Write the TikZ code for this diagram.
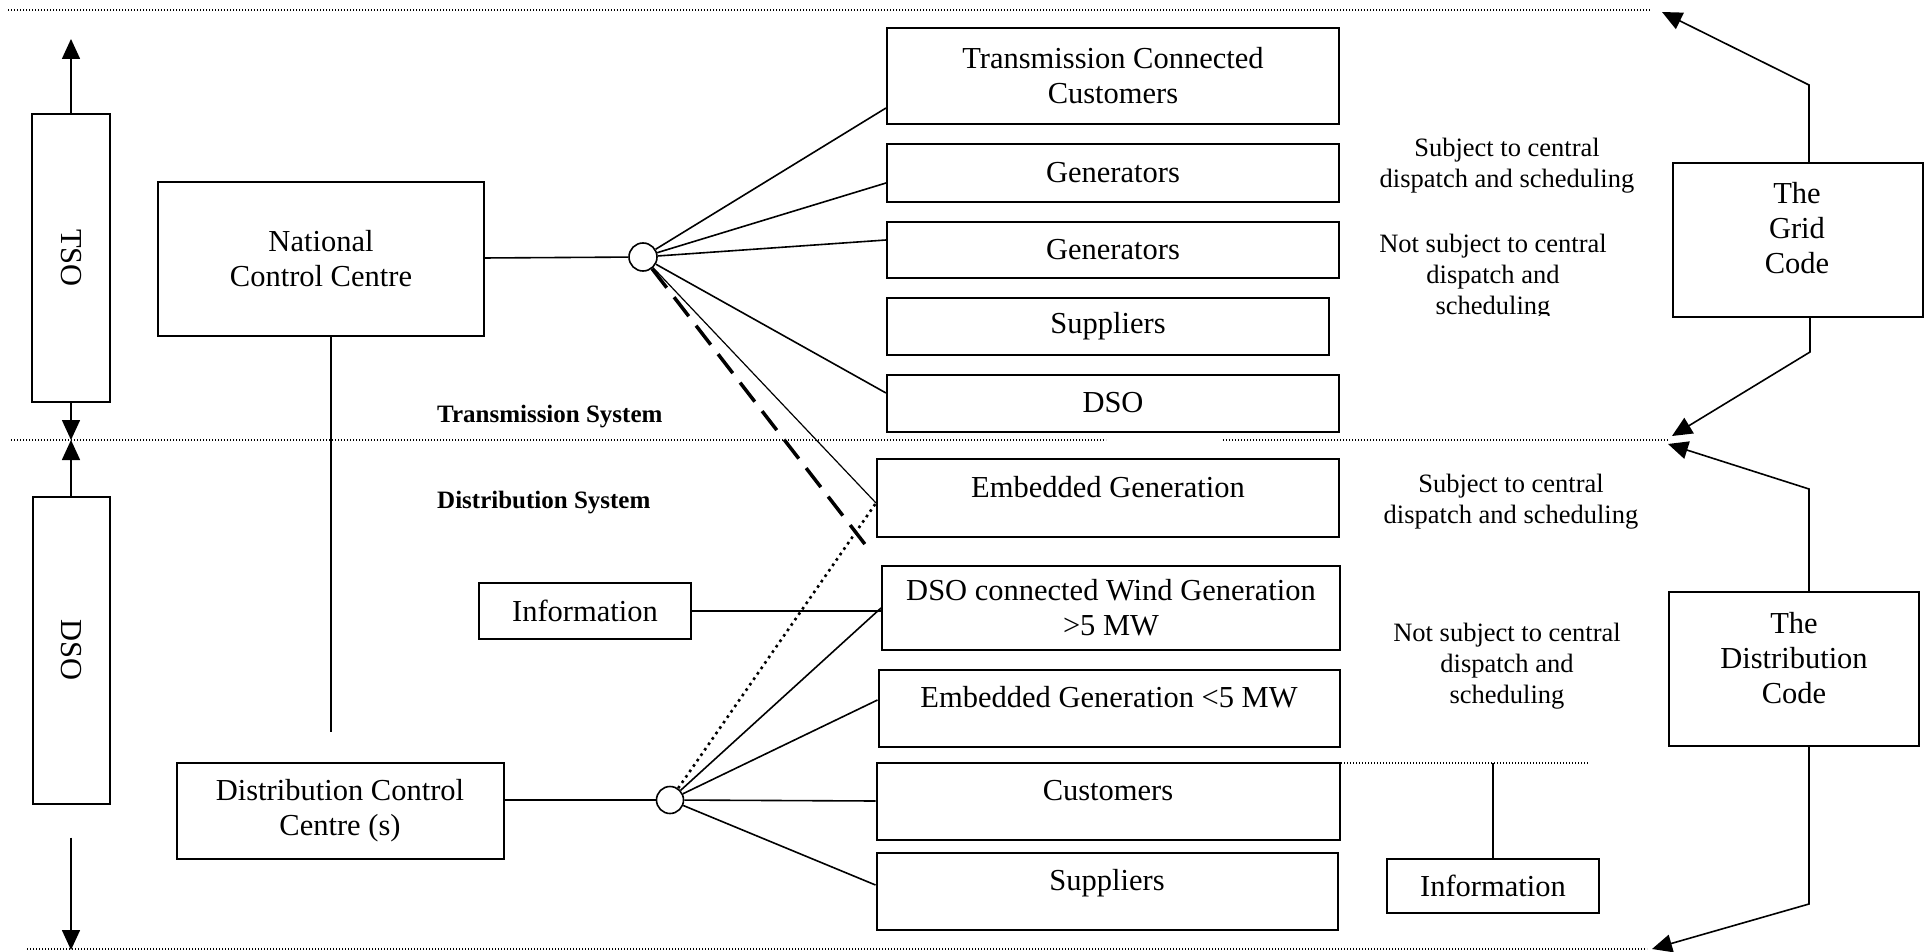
\documentclass[tikz,border=0pt]{standalone}
\usepackage{fontspec}
\setmainfont{Liberation Serif}
\usepackage{graphicx}
\usetikzlibrary{arrows.meta}

\begin{document}
\begin{tikzpicture}[x=1pt, y=-1pt, >={Triangle[length=20pt, width=18pt]}]
    \tikzstyle{box_style} = [draw, line width=2pt, inner sep=0pt, align=center, font=\fontsize{30.5}{35}\selectfont]
    \tikzstyle{box_text} = [inner sep=0pt, align=center, font=\fontsize{30.5}{35}\selectfont]
    \tikzstyle{low_text} = [text height=21pt, text depth=22pt]
    \tikzstyle{junction} = [draw, circle, line width=1.6pt, inner sep=0pt, minimum size=28pt]
    \tikzstyle{link} = [line width=1.6pt]
    \tikzstyle{thin_link} = [line width=1.2pt]
    \tikzstyle{dash_link} = [line width=3.5pt, dash pattern=on 24pt off 12pt]
    \tikzstyle{dot_link} = [line width=2.6pt, dash pattern=on 2.6pt off 4pt]
    \tikzstyle{boundary} = [line width=1.2pt, dash pattern=on 1.2pt off 1.8pt]
    \tikzstyle{code_arrow} = [->, line width=1.6pt]
    \tikzstyle{side_text} = [inner sep=0pt, align=center, font=\fontsize{26.5}{31}\selectfont]
    \tikzstyle{system_text} = [anchor=west, inner sep=0pt, font=\fontsize{25}{29}\selectfont\bfseries]

    \useasboundingbox (0,0) rectangle (1930,952);

    % system boundaries
    \draw[boundary] (8,10) -- (1650,10);
    \draw[boundary] (11,440) -- (1106,440);
    \draw[boundary] (1223,440) -- (1668,440);
    \draw[boundary] (27,949) -- (1647,949);

    \node[system_text] (tTrans) at (437,417) {Transmission System};
    \node[system_text] (tDist) at (437,503) {Distribution System};

    % operators
    \node[box_style, minimum width=78pt, minimum height=288pt] (nTSO) at (71,258) {\rotatebox{-90}{TSO}};
    \node[box_style, minimum width=77pt, minimum height=307pt] (nDSO) at (71,650) {\rotatebox{-90}{DSO}};

    \coordinate (tsoTop) at (71,39);
    \coordinate (sysMid) at (71,440);
    \coordinate (dsoBottom) at (71,950);

    \draw[code_arrow] (nTSO.north) -- (tsoTop);
    \draw[code_arrow] (nTSO.south) -- (sysMid);
    \draw[code_arrow] (nDSO.north) -- (sysMid);
    \draw[code_arrow] ([yshift=-33pt]nDSO.south) -- (dsoBottom);

    % control centres
    \node[box_style, minimum width=326pt, minimum height=154pt] (nNCC) at (321,259) {National\\Control Centre};
    \node[box_style, minimum width=327pt, minimum height=96pt] (nDCC) at (340,811) {Distribution Control\\Centre (s)};
    \coordinate (nccEnd) at (331,732);
    \draw[link] ([xshift=10pt]nNCC.south) -- (nccEnd);

    \node[junction] (nJT) at (643,257) {};
    \node[junction, minimum size=27pt] (nJD) at (670,800) {};

    \draw[link] (nNCC) -- (nJT);
    \draw[link] (nDCC.east |- nJD) -- (nJD);

    % transmission connected parties
    \node[box_style, minimum width=452pt, minimum height=96pt] (nTCC) at (1113,76) {Transmission Connected\\Customers};
    \node[box_style, minimum width=452pt, minimum height=58pt] (nGenA) at (1113,173) {Generators};
    \node[box_style, minimum width=452pt, minimum height=56pt] (nGenB) at (1113,250) {Generators};
    \node[box_style, minimum width=442pt, minimum height=57pt] (nSupA) at (1108,326) {Suppliers};
    \node[box_style, minimum width=452pt, minimum height=57pt] (nDSOT) at (1113,403) {DSO};

    % distribution connected parties
    \node[box_style, low_text, minimum width=462pt, minimum height=78pt] (nEmb) at (1108,498) {Embedded Generation};
    \node[box_style, minimum width=458pt, minimum height=84pt] (nWind) at (1111,608) {DSO connected Wind Generation\\>5 MW};
    \node[box_style, low_text, minimum width=461pt, minimum height=77pt] (nEmbS) at (1109,708) {Embedded Generation <5 MW};
    \node[box_style, low_text, minimum width=463pt, minimum height=77pt] (nCust) at (1108,801) {Customers};
    \node[box_style, low_text, minimum width=461pt, minimum height=77pt] (nSupB) at (1107,891) {Suppliers};

    \draw[link] (nJT) -- ([yshift=17pt]nTCC.south west);
    \draw[link] (nJT) -- ([yshift=-10pt]nGenA.west);
    \draw[link] (nJT) -- ([yshift=10pt]nGenB.west);
    \draw[link] (nJT) -- ([yshift=10pt]nDSOT.west);
    \draw[thin_link] (nJT) -- ([yshift=-5pt]nEmb.west);
    \draw[dash_link, shorten >=17pt] (nJT) -- (nWind.north west);

    \draw[dot_link] (nJD) -- ([yshift=-5pt]nEmb.west);
    \draw[link] (nJD) -- (nWind.west);
    \draw[link] (nJD) -- ([yshift=8pt]nEmbS.west);
    \draw[link] (nJD) -- (nCust.west);
    \draw[link] (nJD) -- ([yshift=6pt]nSupB.west);

    % information flows
    \node[box_style, minimum width=212pt, minimum height=56pt] (nInfoA) at (585,611) {Information};
    \node[box_style, minimum width=212pt, minimum height=54pt] (nInfoB) at (1493,886) {Information};
    \draw[link] (nInfoA) -- (nInfoA -| nWind.west);

    \coordinate (custSepL) at (1200,763);
    \coordinate (custSepR) at (1588,763);
    \draw[boundary] (custSepL) -- (custSepR);
    \draw[link] (nInfoB) -- (nInfoB |- custSepR);

    % dispatch notes
    \node[side_text] (tSubA) at (1507,166) {Subject to central\\dispatch and scheduling};
    \begin{scope}
        \clip (1300,0) rectangle (1660,315);
        \node[side_text] (tNotA) at (1493,277) {Not subject to central\\dispatch and\\scheduling};
    \end{scope}
    \node[side_text] (tSubB) at (1511,502) {Subject to central\\dispatch and scheduling};
    \node[side_text] (tNotB) at (1507,666) {Not subject to central\\dispatch and\\scheduling};

    % codes
    \node[box_style, minimum width=250pt, minimum height=154pt] (nGC) at (1798,240) {};
    \node[box_text] (tGC) at (1797,228) {The\\Grid\\Code};
    \node[box_style, minimum width=250pt, minimum height=154pt] (nDC) at (1794,669) {};
    \node[box_text] (tDC) at (1794,658) {The\\Distribution\\Code};

    \coordinate (gcTip) at (1662,12);
    \coordinate (midTipA) at (1672,436);
    \coordinate (midTipB) at (1668,444);
    \coordinate (dcTip) at (1652,949);

    \draw[code_arrow] ([xshift=11pt]nGC.north) -- ++(0,-77) -- (gcTip);
    \draw[code_arrow] ([xshift=12pt]nGC.south) -- ++(0,34) -- (midTipA);
    \draw[code_arrow] ([xshift=15pt]nDC.north) -- ++(0,-102) -- (midTipB);
    \draw[code_arrow] ([xshift=15pt]nDC.south) -- ++(0,157) -- (dcTip);
\end{tikzpicture}
\end{document}
